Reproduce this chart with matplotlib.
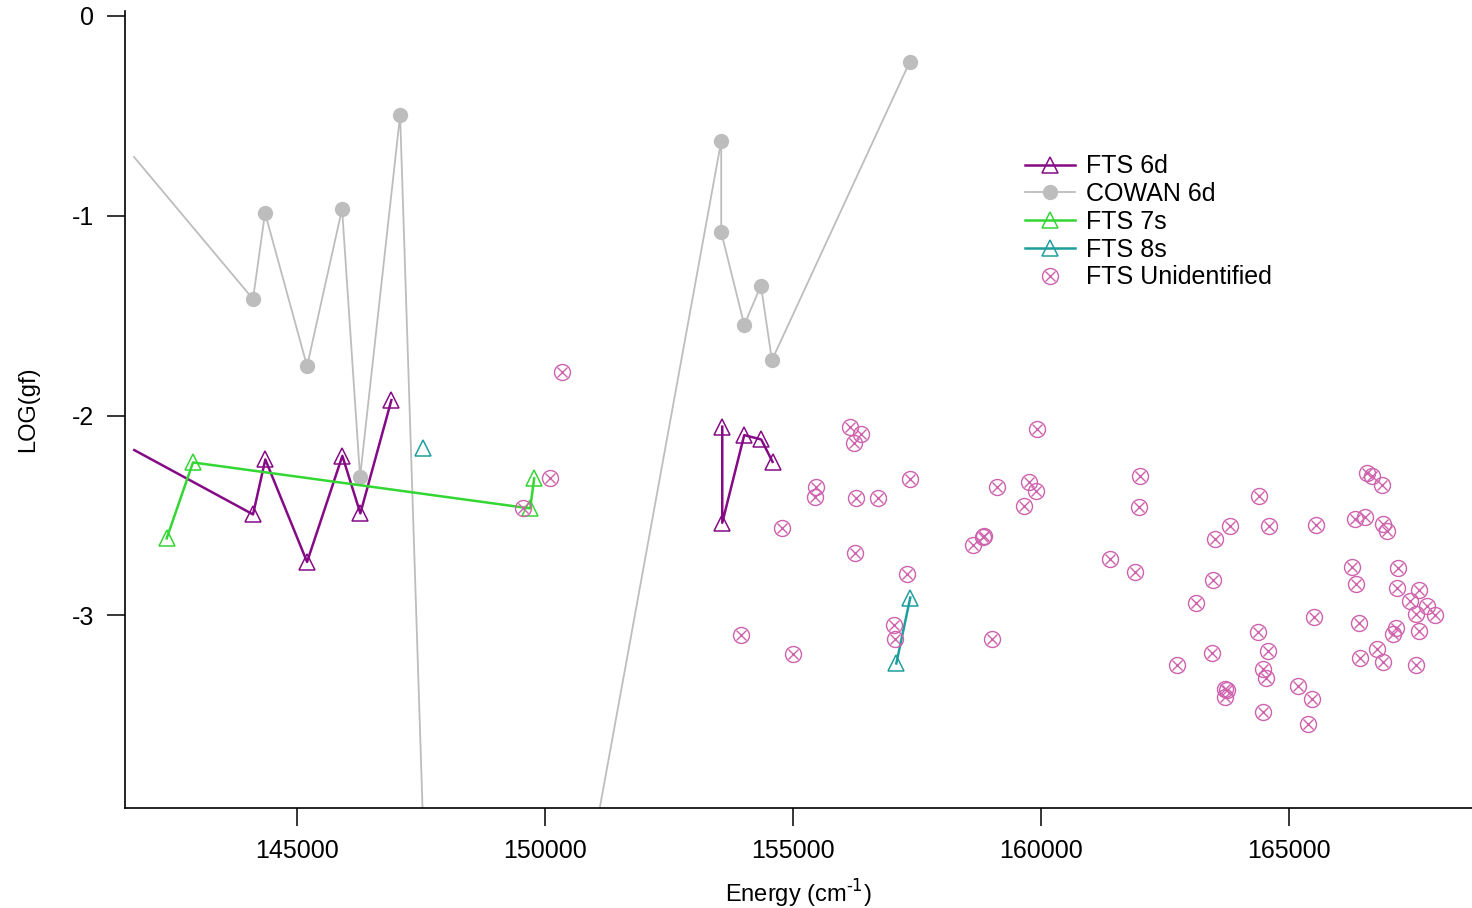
import numpy as np
import matplotlib
matplotlib.use("Agg")
import matplotlib.pyplot as plt

plt.rcParams['font.family'] = ['Liberation Sans', 'DejaVu Sans']
plt.rcParams['axes.unicode_minus'] = False

# FTS 6d (nan = break in the line)
fts6d_x = [141717, 144112, 144360, 145202, 145914, 146277, 146903, np.nan,
           153577, 153577, 154020, 154363, 154592]
fts6d_y = [-2.173, -2.495, -2.220, -2.733, -2.202, -2.490, -1.923, np.nan,
           -2.056, -2.537, -2.098, -2.120, -2.232]

# COWAN 6d
cowan_x = [141711, 144112, 144354, 145202, 145908, 146271, 147079, 148070,
           153556, 153556, 154020, 154357, 154579, 157356]
cowan_y = [-0.706, -1.417, -0.986, -1.753, -0.966, -2.308, -0.496, -8.10,
           -0.626, -1.083, -1.546, -1.350, -1.723, -0.232]

# FTS 7s
fts7s_x = [142370, 142901, 149702, 149783]
fts7s_y = [-2.615, -2.235, -2.465, -2.315]

# FTS 8s
fts8s_x = [147549, np.nan, 157088, 157370]
fts8s_y = [-2.165, np.nan, -3.241, -2.911]

# FTS Unidentified
unid_x = [150342, 150099, 149555, 156146, 156376, 156235, 159926, 157359, 155473,
          155447, 156267, 156719, 159119, 159772, 159901, 159671, 154773, 156255,
          158836, 158863, 158635, 157302, 157035, 157068, 159019, 153946, 155003,
          162005, 161977, 161406, 161897, 164413, 163828, 164608, 163512, 165550,
          166587, 166688, 166890, 166332, 166540, 166903, 166978, 166285, 166366,
          167204, 167191, 167635, 167441, 167797, 167575, 167945, 163485, 163128,
          165523, 166411, 167158, 167111, 167629, 164379, 163458, 162758, 164594,
          166774, 166431, 166910, 167568, 164480, 164554, 163727, 163753, 163720,
          165196, 165479, 164480, 165388]
unid_y = [-1.784, -2.313, -2.465, -2.056, -2.093, -2.140, -2.068, -2.318, -2.360,
          -2.407, -2.412, -2.412, -2.360, -2.335, -2.380, -2.452, -2.564, -2.689,
          -2.607, -2.604, -2.649, -2.791, -3.050, -3.121, -3.121, -3.098, -3.193,
          -2.303, -2.457, -2.719, -2.783, -2.404, -2.554, -2.555, -2.619, -2.547,
          -2.290, -2.302, -2.349, -2.520, -2.507, -2.544, -2.579, -2.758, -2.844,
          -2.761, -2.861, -2.871, -2.929, -2.953, -2.993, -2.996, -2.824, -2.938,
          -3.010, -3.036, -3.065, -3.095, -3.081, -3.085, -3.191, -3.248, -3.178,
          -3.171, -3.213, -3.233, -3.250, -3.271, -3.316, -3.367, -3.372, -3.409,
          -3.355, -3.417, -3.484, -3.542]

purple = '#850a85'
grey = '#bdbdbd'
green = '#33d633'
teal = '#1f9e9e'
pink = '#cf62ad'

fig = plt.figure(figsize=(14.72, 9.08), dpi=100)
ax = fig.add_axes([0.0849, 0.110, 0.9151, 0.878])

h_cowan, = ax.plot(cowan_x, cowan_y, '-o', color=grey, lw=1.3, ms=10,
                   mec=grey, mfc=grey, markevery=slice(1, None), label='COWAN 6d')
h_6d, = ax.plot(fts6d_x, fts6d_y, '-^', color=purple, lw=1.8, ms=11,
                mfc='none', mec=purple, mew=1.1, markevery=slice(1, None), label='FTS 6d')
h_7s, = ax.plot(fts7s_x, fts7s_y, '-^', color=green, lw=1.8, ms=11,
                mfc='none', mec=green, mew=1.1, label='FTS 7s')
h_8s, = ax.plot(fts8s_x, fts8s_y, '-^', color=teal, lw=1.8, ms=11,
                mfc='none', mec=teal, mew=1.1, label='FTS 8s')
h_uo, = ax.plot(unid_x, unid_y, 'o', ls='none', ms=11.5, mfc='none', mec=pink, mew=1.0)
h_ux, = ax.plot(unid_x, unid_y, 'x', ls='none', ms=6.5, color=pink, mew=1.0)

ax.set_xlim(141529, 168700)
ax.set_ylim(-3.965, 0.025)
ax.set_xticks([145000, 150000, 155000, 160000, 165000])
ax.set_xticklabels(['145000', '150000', '155000', '160000', '165000'])
ax.set_yticks([0, -1, -2, -3])
ax.set_yticklabels(['0', '-1', '-2', '-3'])

for s in ['top', 'right']:
    ax.spines[s].set_visible(False)
for s in ['left', 'bottom']:
    ax.spines[s].set_linewidth(1.2)
ax.tick_params(direction='out', length=13, width=1.1, labelsize=18, pad=9)

ax.set_xlabel(r'Energy (cm$^{\text{-1}}$)', fontsize=17, labelpad=11)
ax.set_ylabel('LOG(gf)', fontsize=17, labelpad=24)

fig.legend([h_6d, h_cowan, h_7s, h_8s, (h_uo, h_ux)],
           ['FTS 6d', 'COWAN 6d', 'FTS 7s', 'FTS 8s', 'FTS Unidentified'],
           loc='upper left', bbox_to_anchor=(0.696, 0.830), frameon=False,
           fontsize=18, handlelength=2.0, handletextpad=0.45, labelspacing=0.15,
           borderpad=0, borderaxespad=0)

fig.savefig('out.png', dpi=100)
